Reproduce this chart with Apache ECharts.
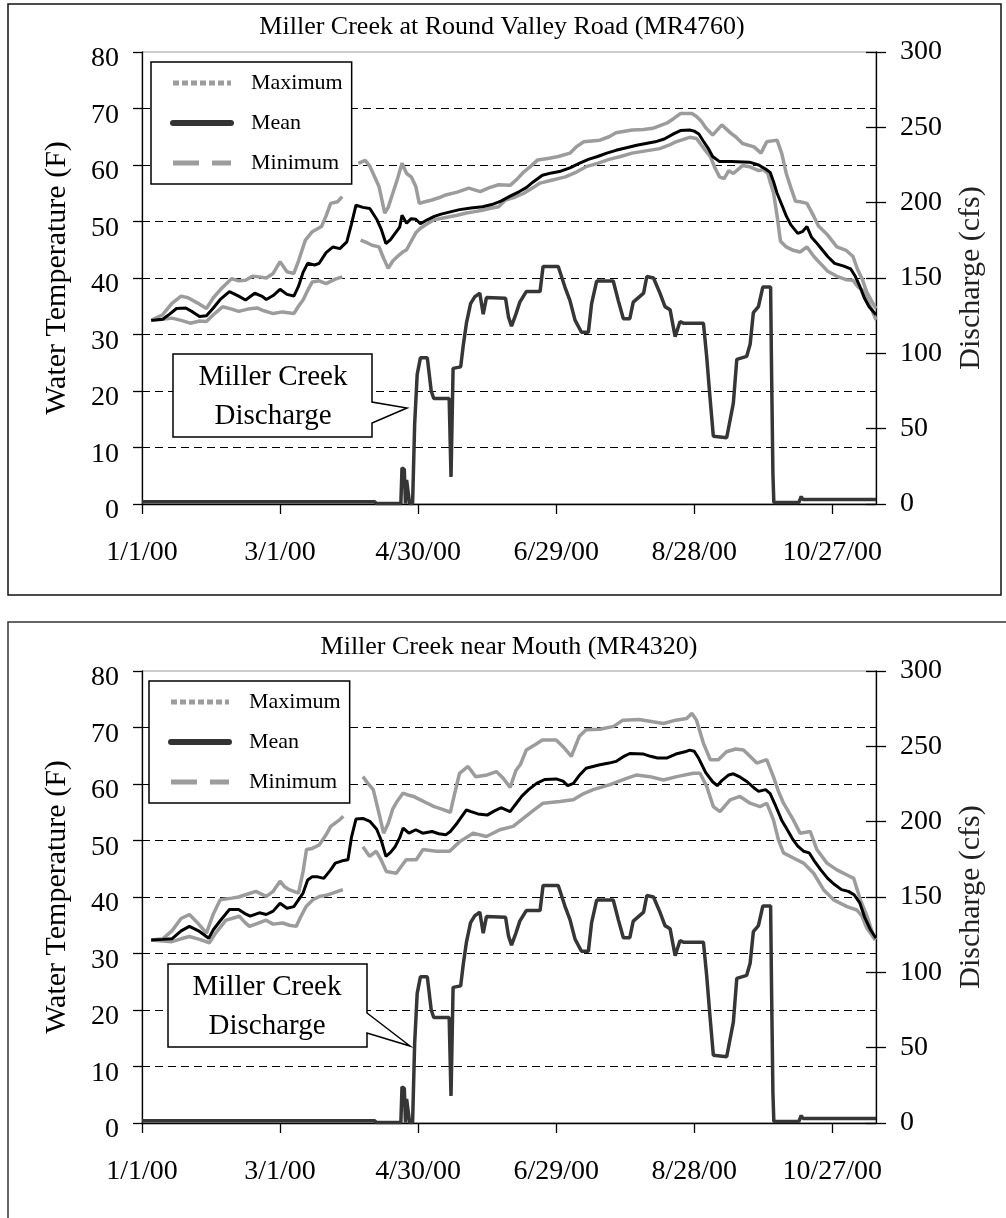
<!DOCTYPE html>
<html><head><meta charset="utf-8">
<script src="https://cdn.jsdelivr.net/npm/echarts@6/dist/echarts.min.js"></script>
<style>html,body{margin:0;padding:0;background:#fff}#c{width:1006px;height:1218px}</style>
</head><body><div id="c"></div>
<script>
// x values are days after 1/1/00
const xTickLabels = ['1/1/00','3/1/00','4/30/00','6/29/00','8/28/00','10/27/00'];
const seriesNames = ['Maximum','Mean','Minimum'];
const panelTitles = ['Miller Creek at Round Valley Road (MR4760)','Miller Creek near Mouth (MR4320)'];
const tempAxisName = 'Water Temperature (F)';
const flowAxisName = 'Discharge (cfs)';
const calloutText = 'Miller Creek\nDischarge';

const p1Max = [[4,32.5],[9,33.5],[13,35.5],[17,36.8],[20,36.5],[24,35.6],[28,34.6],[31,36.5],[34,37.9],[39,39.9],[42,39.5],[45,39.6],[48,40.3],[51,40.2],[54,40.0],[57,40.8],[60,42.9],[63,41.1],[66,40.8],[68,43.0],[71,46.7],[74,48.2],[78,49.1],[80,51.0],[82,53.2],[85,53.5],[87,54.4],[90,null],[94,60.3],[97,60.8],[99,59.8],[101,58.0],[103,56.2],[105.5,51.5],[107,52.5],[109,55.0],[111,57.5],[113,60.3],[115,58.5],[117,57.9],[119,56.2],[120.5,53.2],[123,53.5],[126,53.8],[129,54.2],[132,54.7],[137,55.2],[142,55.9],[147,55.3],[151,56.0],[155,56.5],[160,56.4],[163,57.5],[166,58.8],[169,59.8],[172,60.9],[177,61.2],[181,61.5],[186,62.1],[189,63.3],[192,64.1],[199,64.4],[203,65.0],[206,65.7],[213,66.2],[218,66.3],[222,66.5],[228,67.4],[231,68.2],[234,69.1],[239,69.1],[241,68.6],[243,67.8],[245,66.6],[248,65.3],[252,67.1],[256,65.6],[258,65.0],[261,63.8],[266,63.2],[269,62.1],[271.5,64.1],[276,64.4],[278,62.1],[280,58.5],[282,56.0],[284,53.6],[286,53.5],[289,53.2],[292,50.9],[294,49.2],[298,47.6],[302,45.5],[306,44.9],[309,43.8],[311,41.5],[313,39.8],[315,37.5],[317,36.0],[319,34.6]];
const p1Mean = [[4,32.5],[9,32.7],[12,33.6],[15,34.6],[19,34.7],[22,34.0],[25,33.2],[28,33.3],[31,34.7],[34,36.2],[38,37.6],[42,36.8],[45,36.1],[49,37.3],[52,36.8],[54,36.2],[57,36.9],[60,38.0],[63,37.1],[66,36.8],[68,38.5],[70,41.0],[72,42.6],[75,42.3],[77,42.6],[80,44.5],[83,45.5],[86,45.2],[89,46.4],[91,49.5],[93,52.9],[96,52.5],[99,52.3],[102,50.4],[104,48.6],[106,46.1],[108,46.8],[110,47.9],[112,49.0],[113,51.1],[115,49.7],[117,50.5],[119,50.4],[121,49.6],[124,50.3],[127,50.9],[130,51.3],[134,51.7],[138,52.1],[143,52.4],[148,52.6],[152,53.0],[156,53.6],[160,54.5],[164,55.3],[167,56.0],[170,57.0],[174,58.2],[178,58.6],[182,58.9],[186,59.5],[190,60.3],[194,61.0],[198,61.5],[202,62.1],[206,62.6],[211,63.1],[215,63.5],[219,63.8],[223,64.1],[227,64.6],[231,65.5],[234,66.1],[238,66.2],[240,66.0],[242,65.5],[244,64.2],[246,63.0],[248,61.5],[251,60.6],[256,60.6],[264,60.5],[268,60.0],[271,59.3],[273,58.7],[274.5,57.0],[276,55.0],[278,53.0],[280,51.0],[282,49.4],[285,47.9],[287,48.2],[289,49.1],[291,47.2],[293,46.3],[295,45.3],[298,43.8],[301,42.6],[305,42.1],[308,41.6],[310,40.3],[312,38.5],[314,36.4],[316,34.9],[319,33.5]];
const p1Min = [[4,32.5],[9,32.7],[13,32.9],[17,32.5],[21,32.0],[25,32.4],[28,32.3],[31,33.5],[35,34.9],[39,34.5],[42,34.1],[46,34.5],[50,34.7],[53,34.2],[57,33.7],[61,34.0],[66,33.7],[68,35.0],[70,36.1],[72,37.8],[74,39.3],[77,39.5],[80,39.0],[84,39.8],[87,40.2],[90,null],[95,46.7],[98,46.2],[100,45.8],[103,45.5],[105,43.5],[107,41.7],[109,43.0],[111,43.8],[113,44.5],[115,45.0],[117,46.5],[119,48.0],[121,48.8],[124,49.6],[127,50.3],[132,50.7],[137,51.1],[141,51.5],[144,51.7],[148,52.0],[151,52.3],[155,52.6],[158,53.8],[162,54.3],[166,55.0],[170,56.0],[173,56.8],[178,57.3],[184,57.9],[189,58.8],[193,59.7],[198,60.3],[203,61.0],[208,61.5],[213,62.1],[219,62.5],[225,62.9],[229,63.5],[232,64.1],[238,64.9],[241,64.7],[243,63.6],[245,62.5],[247,61.5],[249,59.5],[251,57.9],[253,57.6],[255,59.0],[257,58.5],[261,59.9],[264,59.7],[268,59.0],[270,59.2],[272,58.5],[273,57.0],[274.5,55.0],[276,51.0],[277.5,46.5],[280,45.5],[283,44.9],[286,44.6],[289,45.5],[292,43.8],[295,42.5],[298,41.2],[302,40.3],[306,39.7],[309,39.6],[311,38.5],[313,37.9],[315,36.3],[317,34.6],[319,32.6]];

const p2Max = [[4,32.4],[9,32.6],[13,34.0],[17,36.2],[20.6,36.9],[24,35.5],[28,33.6],[31,37.0],[34,39.5],[39,39.8],[42,40.0],[45,40.4],[49.5,41.0],[54,40.1],[57,41.0],[60,42.8],[62,41.8],[64,41.3],[68,40.7],[70,44.5],[71.5,48.4],[74,48.6],[77,49.2],[80,51.0],[82,52.5],[86,53.7],[87.5,54.3],[90,null],[96,61.3],[98,60.2],[100.5,59.0],[103,54.8],[105,51.3],[107,53.0],[109,55.6],[111,57.0],[113.5,58.4],[116,58.0],[118,57.8],[121,57.2],[124,56.6],[127,56.0],[130,55.6],[134,55.0],[136,58.5],[138,61.9],[141.7,63.1],[145,61.3],[150,61.6],[154,62.2],[157,61.0],[160,59.4],[162.5,62.4],[164.5,63.5],[167,66.0],[171,67.0],[174,67.8],[180,67.8],[183,66.6],[186.6,64.9],[190,68.4],[193,69.6],[199,69.7],[205,70.2],[209,71.3],[216,71.4],[222,71.0],[226.6,70.7],[232,71.3],[236.7,71.6],[239,72.5],[241,71.3],[244,67.2],[247,64.3],[250.5,64.3],[254,65.7],[258,66.2],[261.4,66.0],[264,65.0],[267.2,63.7],[271.5,64.3],[274.4,61.3],[276.5,58.8],[278.8,56.6],[283,53.7],[286,51.3],[290.4,51.6],[293.3,48.4],[297.7,46.0],[302,44.8],[306.4,43.9],[309.3,43.3],[312.2,39.5],[315.1,36.6],[318,33.0],[319,32.5]];
const p2Mean = [[4,32.4],[9,32.5],[13,32.6],[17,34.0],[20.6,34.8],[25,33.9],[29,32.7],[31,34.2],[34,35.8],[38,37.8],[42,37.8],[45,37.0],[47,36.6],[51,37.2],[54,36.9],[57,37.5],[60,38.9],[63,38.0],[66,38.3],[68,39.5],[70,40.7],[72,43.0],[74,43.6],[76,43.6],[79,43.3],[82,44.8],[84,46.0],[87,46.4],[89.5,46.6],[91,50.5],[93,53.8],[96,53.9],[99,53.4],[102,52.0],[104,50.0],[106,47.2],[108,47.9],[110,48.9],[112,50.5],[113.5,52.2],[116,51.3],[119,51.9],[122,51.3],[126,51.6],[129,51.2],[132,51.0],[134,51.6],[137,53.1],[141,55.4],[143,55.1],[146,54.7],[150,54.5],[153,55.2],[156,55.8],[160,55.1],[162,56.2],[165,57.8],[168,59.0],[171.5,60.1],[175,60.8],[180,60.9],[183,60.5],[185,59.7],[187.5,60.1],[190,61.5],[193,62.8],[196,63.1],[199,63.4],[203,63.7],[206,64.0],[209,64.8],[212,65.4],[218,65.3],[221,64.9],[224,64.6],[228,64.6],[232,65.3],[236,65.7],[238,66.0],[240,65.8],[242,64.5],[245,62.0],[248,60.4],[250,59.7],[252,60.6],[255,61.6],[257,61.8],[260,61.2],[263,60.4],[266,59.3],[268,58.7],[271,59.0],[273,58.3],[275,56.5],[278,53.6],[280,52.2],[283,50.1],[285,49.0],[287.5,48.1],[290,47.8],[292,46.5],[295,44.8],[298,43.3],[301,42.2],[304,41.3],[307,41.0],[309.5,40.4],[312,38.9],[314,36.5],[316.6,34.2],[319,32.7]];
const p2Min = [[4,32.4],[9,32.2],[13,32.1],[17,32.6],[20.6,33.0],[25,32.5],[29.3,31.9],[32,33.6],[36.5,35.9],[39,36.2],[42.3,36.6],[44.5,35.6],[46.7,34.8],[50,35.3],[53.9,35.9],[57,35.2],[61.2,35.4],[64,35.0],[67,34.8],[69,36.5],[71.3,38.3],[74.3,39.5],[77.1,40.1],[80,40.3],[82.9,40.7],[87.3,41.3],[90,null],[96,48.9],[98.9,47.2],[101.8,48.1],[104,46.5],[106.2,44.5],[110.5,44.2],[114.8,46.6],[119.2,46.6],[122.1,48.4],[127.9,48.1],[133.7,48.1],[138.1,49.8],[143.9,51.3],[149.7,50.7],[155.5,51.9],[161.3,52.5],[165.7,53.9],[170,55.3],[174.3,56.6],[181.6,56.9],[187.4,57.2],[192,58.3],[196.1,59.0],[203.4,59.9],[210.6,61.0],[215,61.6],[220.8,61.3],[226.6,60.7],[232.4,61.3],[239.6,61.9],[242.5,61.9],[245.4,59.6],[248.3,56.0],[251.2,55.1],[255.6,57.2],[259.9,57.8],[264.3,56.6],[268.6,56.0],[271.5,56.6],[274.4,53.7],[276.6,50.1],[278.8,47.8],[283.1,46.9],[287.5,46.0],[291.9,44.2],[296.2,41.3],[300.6,39.5],[306.4,38.3],[310.7,37.7],[312.9,36.6],[315,34.5],[318.7,32.4]];

const discharge = [[0,1.5],[101,1.5],[102,0.3],[112.5,0.3],[113,24],[114,23],[114.5,0.3],[115,16],[115.8,16],[116.3,0.3],[117.6,0.3],[118.5,53],[119.6,86],[121,97],[124,97],[125.7,75],[126.8,70],[133.5,70],[134.3,18],[135.2,90],[138.5,91],[139.6,105],[141,120],[142.8,133],[144.6,137.5],[146.8,140],[148.3,126],[149.7,137],[158,136.5],[159.3,124],[160.6,118],[162.5,126],[164.2,134],[167,141],[173,141],[174.3,157.6],[180.9,157.6],[183.8,144],[186,135],[188.2,122],[191,114],[194,114],[195.4,133],[197.6,148],[204.8,148],[207,135],[209.2,123],[212,123],[213.5,134],[218,140],[219.4,151],[222.3,150],[225.1,140],[227.3,131],[229.5,129],[231.7,111],[233.8,121],[235.3,120],[244,120],[245.4,98],[246.9,70],[248.3,45],[254.1,44],[257,67],[258.5,96],[262.8,98],[264.3,106],[265.7,127],[267.9,131],[269.8,144],[273.2,144],[273.6,90],[274.2,20],[274.6,1],[285.5,1],[286.5,5],[287.2,3],[319,3]];

const panels = [
  {max: p1Max, mean: p1Mean, min: p1Min, flow: discharge},
  {max: p2Max, mean: p2Mean, min: p2Min, flow: discharge}
];

const FONT = '"Liberation Serif","Times New Roman",serif';
const gridTops = [52, 671];
const GRID_H = 452;

const chart = echarts.init(document.getElementById('c'), null, {renderer: 'canvas'});

const grids = [], xAxes = [], yAxes = [], series = [], legends = [];
const axisLineStyle = {color: '#000', width: 1.3};
const hiddenSymbol = {opacity: 0};

panels.forEach((p, i) => {
  grids.push({left: 142, right: 130, top: gridTops[i], height: GRID_H, show: true,
    borderColor: '#9a9a9a', borderWidth: 1, backgroundColor: 'transparent'});
  xAxes.push({
    gridIndex: i, type: 'value', min: 0, max: 319, interval: 60,
    axisLine: {show: true, onZero: false, lineStyle: axisLineStyle},
    axisTick: {show: true, length: 10, lineStyle: axisLineStyle},
    axisLabel: {margin: 35, fontFamily: FONT, fontSize: 28, color: '#000', showMaxLabel: false,
      formatter: v => (v % 60 === 0 ? (xTickLabels[v / 60] || '') : '')},
    splitLine: {show: false}
  });
  yAxes.push({
    gridIndex: i, type: 'value', position: 'left', min: 0, max: 80, interval: 10,
    name: tempAxisName, nameLocation: 'middle', nameRotate: 90, nameGap: 70,
    nameTextStyle: {fontFamily: FONT, fontSize: 30, color: '#000'},
    axisLine: {show: true, lineStyle: axisLineStyle},
    axisTick: {show: true, length: 9, lineStyle: axisLineStyle},
    axisLabel: {margin: 23, fontFamily: FONT, fontSize: 28, color: '#000', verticalAlign: 'top', lineHeight: 14},
    splitLine: {show: true, showMinLine: false, showMaxLine: false,
      lineStyle: {color: '#000', width: 1, type: [8, 5]}}
  });
  yAxes.push({
    gridIndex: i, type: 'value', position: 'right', min: 0, max: 300, interval: 50,
    name: flowAxisName, nameLocation: 'middle', nameRotate: 90, nameGap: 80,
    nameTextStyle: {fontFamily: FONT, fontSize: 30, color: '#222'},
    axisLine: {show: true, lineStyle: axisLineStyle},
    axisTick: {show: true, length: 10, lineStyle: axisLineStyle},
    axisLabel: {margin: 24, fontFamily: FONT, fontSize: 28, color: '#000'},
    splitLine: {show: false}
  });
  yAxes.push({
    gridIndex: i, type: 'value', position: 'right', min: 0, max: 300, interval: 50,
    axisLine: {show: false},
    axisTick: {show: true, inside: true, length: 10, lineStyle: axisLineStyle},
    axisLabel: {show: false}, splitLine: {show: false}
  });

  const base = {type: 'line', xAxisIndex: i, symbol: 'none', showSymbol: false, silent: true, animation: false};
  series.push(Object.assign({}, base, {name: 'Discharge', yAxisIndex: i * 3 + 1, data: p.flow,
    lineStyle: {color: '#363636', width: 3.5}, itemStyle: {color: '#363636'}, z: 2}));
  series.push(Object.assign({}, base, {name: seriesNames[2], yAxisIndex: i * 3, data: p.min,
    lineStyle: {color: '#9c9c9c', width: 3.5}, itemStyle: {color: '#9c9c9c'}, z: 3}));
  series.push(Object.assign({}, base, {name: seriesNames[0], yAxisIndex: i * 3, data: p.max,
    lineStyle: {color: '#9c9c9c', width: 3.5}, itemStyle: {color: '#9c9c9c'}, z: 3}));
  series.push(Object.assign({}, base, {name: seriesNames[1], yAxisIndex: i * 3, data: p.mean,
    lineStyle: {color: '#000', width: 3}, itemStyle: {color: '#000'}, z: 4}));

  legends.push({
    orient: 'vertical', left: i === 0 ? 151 : 149, top: gridTops[i] + 10,
    backgroundColor: '#fff', borderColor: '#000', borderWidth: 1.5,
    padding: [10, 9, 10, 19], itemGap: 18, itemWidth: 58, itemHeight: 14,
    selectedMode: false,
    textStyle: {fontFamily: FONT, fontSize: 22, color: '#000', padding: [0, 0, 0, 15]},
    data: [
      {name: seriesNames[0], itemStyle: hiddenSymbol, lineStyle: {type: [6, 3], width: 5, color: '#9c9c9c', cap: 'butt'}},
      {name: seriesNames[1], itemStyle: hiddenSymbol, lineStyle: {type: 'solid', width: 6, color: '#333', cap: 'round'}},
      {name: seriesNames[2], itemStyle: hiddenSymbol, lineStyle: {type: [26, 13], width: 5, color: '#9c9c9c', cap: 'butt'}}
    ]
  });
});

const titleStyle = {fontFamily: FONT, fontSize: 26, fill: '#000', align: 'center', verticalAlign: 'middle'};
const calloutStyle = {fontFamily: FONT, fontSize: 29, fill: '#000', align: 'center', verticalAlign: 'middle', lineHeight: 39};

const graphic = [
  {type: 'rect', silent: true, z: 0, shape: {x: 8, y: 4, width: 993, height: 591}, style: {fill: null, stroke: '#111', lineWidth: 1.5}},
  {type: 'rect', silent: true, z: 0, shape: {x: 8, y: 622, width: 1010, height: 620}, style: {fill: null, stroke: '#333', lineWidth: 1.5}},
  {type: 'text', silent: true, x: 502, y: 27, style: Object.assign({text: panelTitles[0]}, titleStyle)},
  {type: 'text', silent: true, x: 509, y: 647, style: Object.assign({text: panelTitles[1]}, titleStyle)},
  {type: 'polygon', silent: true, z: 100, shape: {points: [[173,354],[372,354],[372,402],[407,408],[372,423],[372,437],[173,437]]},
    style: {fill: '#fff', stroke: '#000', lineWidth: 1.5}},
  {type: 'text', silent: true, z: 101, x: 273, y: 397, style: Object.assign({text: calloutText}, calloutStyle)},
  {type: 'polygon', silent: true, z: 100, shape: {points: [[168,964],[367,964],[367,1013],[410,1046],[367,1033],[367,1047],[168,1047]]},
    style: {fill: '#fff', stroke: '#000', lineWidth: 1.5}},
  {type: 'text', silent: true, z: 101, x: 267, y: 1007, style: Object.assign({text: calloutText}, calloutStyle)}
];

chart.setOption({
  animation: false,
  backgroundColor: '#fff',
  grid: grids, xAxis: xAxes, yAxis: yAxes, series: series, legend: legends, graphic: graphic
});
</script></body></html>
